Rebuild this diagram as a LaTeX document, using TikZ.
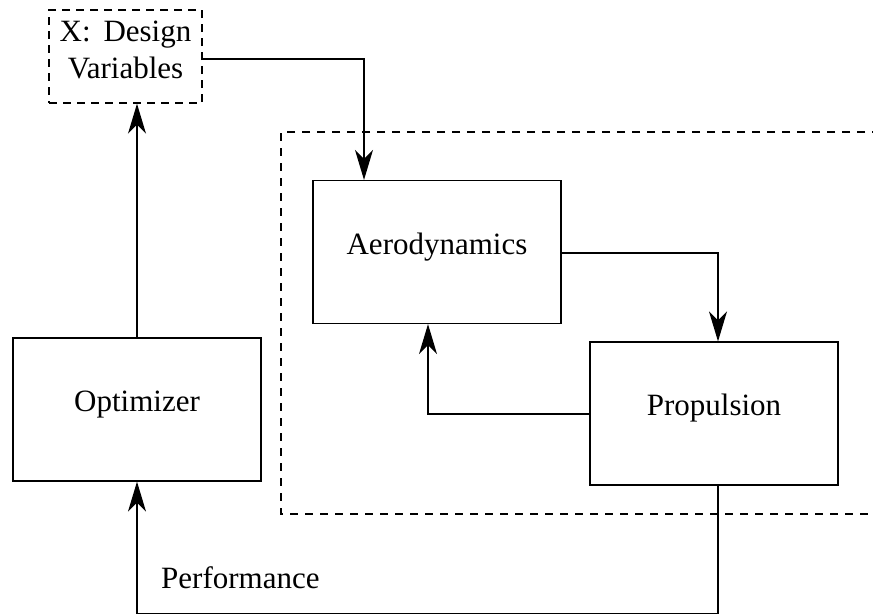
\documentclass[tikz,border=0pt]{standalone}
\usepackage{fontspec}
\setmainfont{Liberation Serif}
\usetikzlibrary{arrows.meta,calc}
\begin{document}
\begin{tikzpicture}[x=1pt,y=-1pt,
  every node/.style={font=\fontsize{31}{37}\selectfont, inner sep=0pt, text height=0.7em, text depth=0.25em},
  block/.style={draw, line width=1.2pt, minimum width=248pt, minimum height=143pt},
  dbox/.style={draw, dashed, dash pattern=on 8pt off 6pt, line width=1.4pt, minimum width=153pt, minimum height=93pt, align=center, text height=, text depth=14pt},
  conn/.style={line width=1.3pt, -{Stealth[length=30pt,width=18pt,inset=9pt]}},
  plain/.style={line width=1.3pt}]
\useasboundingbox (0,0) rectangle (873,614);
\node[dbox] (dv) at (125.5,56.5) {X:\ \,Design\\Variables};
\node[block] (aero) at (437,252) {Aerodynamics};
\node[block] (prop) at (714,413.5) {Propulsion};
\node[block] (opt) at (137,409.5) {Optimizer};
\coordinate (c1) at (281,132);
\coordinate (c2) at (281,514);
\coordinate (c3) at (880,132);
\coordinate (c4) at (880,514);
\draw[dashed, dash pattern=on 8pt off 7pt, line width=1.4pt] (c3) -- (c1) -- (c2) -- (c4);
\node[anchor=base west, text height=, text depth=] (perf) at (161,588) {Performance};
\draw[conn] ([yshift=-2.5pt]dv.east) -| ([xshift=-73pt]aero.north);
\draw[conn] ([yshift=-1pt]aero.east) -| ([xshift=4pt]prop.north);
\draw[conn] ([yshift=-0.5pt]prop.west) -| ([xshift=-9pt]aero.south);
\draw[conn] (opt.north) -- (opt.north |- dv.south);
\coordinate (b1) at ($(prop.south)+(4,128)$);
\draw[conn] ([xshift=4pt]prop.south) -- (b1) -| (opt.south);
\end{tikzpicture}
\end{document}
